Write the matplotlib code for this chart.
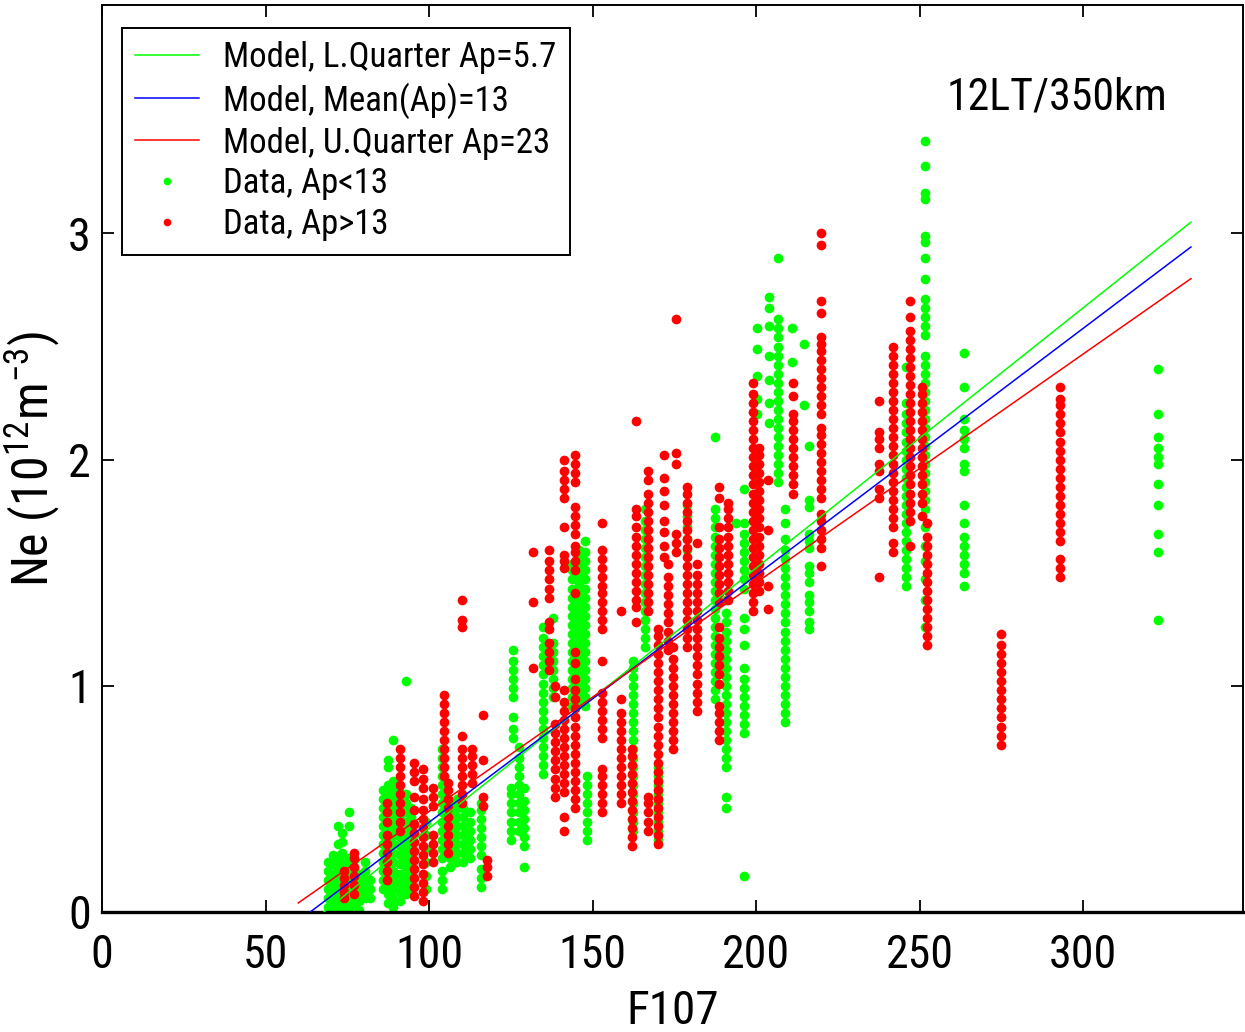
import numpy as np
import matplotlib
matplotlib.use("Agg")
import matplotlib.pyplot as plt
from matplotlib.lines import Line2D

plt.rcParams['font.family'] = ['Roboto Condensed', 'DejaVu Sans']
plt.rcParams['mathtext.fontset'] = 'custom'
plt.rcParams['mathtext.rm'] = 'Roboto Condensed'
plt.rcParams['mathtext.it'] = 'Roboto Condensed'

# model lines (F107 endpoints and Ne values)
model_f107 = [60, 333]
ne_lower_q = [-0.09, 3.05]   # Ap=5.7
ne_mean = [-0.04, 2.94]      # Ap=13
ne_upper_q = [0.04, 2.80]    # Ap=23

# data, Ap<13 : (F107, [Ne values]) columns
green_cols = [
    (69.0, [0.02, 0.06, 0.10, 0.14, 0.18, 0.22]),
    (70.5, [0.01, 0.05, 0.09, 0.13, 0.17, 0.21, 0.25]),
    (72.0, [0.00, 0.04, 0.08, 0.12, 0.16, 0.20, 0.24, 0.30, 0.38]),
    (73.5, [0.02, 0.06, 0.10, 0.14, 0.18, 0.22, 0.26, 0.31, 0.35]),
    (75.5, [0.00, 0.04, 0.08, 0.12, 0.16, 0.20, 0.24, 0.38, 0.44]),
    (77.0, [0.03, 0.07, 0.11, 0.15, 0.19, 0.23]),
    (78.5, [0.01, 0.05, 0.09, 0.13, 0.17]),
    (80.5, [0.06, 0.10, 0.14, 0.18, 0.22]),
    (82.0, [0.06, 0.10, 0.14]),
    (86.0, [0.10, 0.14, 0.18, 0.22, 0.26, 0.30, 0.34, 0.38, 0.42, 0.46, 0.50, 0.54]),
    (87.5, [0.04, 0.08, 0.12, 0.16, 0.20, 0.24, 0.28, 0.32, 0.36, 0.40, 0.44, 0.48, 0.52, 0.56, 0.64, 0.67]),
    (89.0, [0.02, 0.06, 0.10, 0.14, 0.18, 0.22, 0.26, 0.30, 0.34, 0.38, 0.42, 0.46, 0.50, 0.54, 0.58, 0.76]),
    (91.0, [0.05, 0.09, 0.13, 0.17, 0.21, 0.25, 0.29, 0.33, 0.37, 0.41, 0.45, 0.49, 0.53]),
    (93.0, [0.08, 0.12, 0.16, 0.20, 0.24, 0.28, 0.32, 0.36, 0.40, 0.44, 0.48, 0.52, 1.02]),
    (94.5, [0.10, 0.14, 0.18, 0.22, 0.26, 0.30, 0.34, 0.38, 0.42, 0.46]),
    (99.0, [0.10, 0.16, 0.22, 0.28, 0.34, 0.40]),
    (104.0, [0.10, 0.14, 0.18, 0.24, 0.28, 0.32, 0.36, 0.40, 0.44, 0.48, 0.52, 0.56, 0.60, 0.64, 0.68, 0.72]),
    (106.5, [0.20, 0.24, 0.28, 0.32, 0.36, 0.40, 0.44, 0.48]),
    (108.5, [0.22, 0.26, 0.30, 0.34, 0.38, 0.42, 0.46, 0.50]),
    (110.5, [0.22, 0.26, 0.30, 0.34, 0.38, 0.42, 0.46]),
    (112.5, [0.24, 0.28, 0.32, 0.36, 0.40, 0.44]),
    (116.0, [0.11, 0.15, 0.19, 0.25, 0.29, 0.33, 0.37, 0.41, 0.45, 0.48]),
    (125.0, [0.32, 0.36, 0.40, 0.44, 0.48, 0.52, 0.55]),
    (125.7, [0.77, 0.81, 0.86, 0.95, 0.99, 1.03, 1.07, 1.11, 1.16]),
    (127.5, [0.36, 0.40, 0.44, 0.48, 0.52, 0.56, 0.60, 0.64, 0.68, 0.73]),
    (129.0, [0.20, 0.29, 0.33, 0.37, 0.41, 0.45, 0.49, 0.55]),
    (134.9, [0.61, 0.65, 0.69, 0.73, 0.77, 0.81, 0.85, 0.89, 0.93, 0.97, 1.01, 1.05, 1.09, 1.13, 1.17, 1.21, 1.26]),
    (137.8, [0.95, 0.99, 1.03, 1.07, 1.11, 1.15, 1.19, 1.30]),
    (143.7, [0.91, 0.95, 0.99, 1.03, 1.07, 1.11, 1.15, 1.19, 1.23, 1.27, 1.31, 1.35, 1.39, 1.43, 1.47, 1.51, 1.54]),
    (145.8, [0.93, 0.97, 1.01, 1.05, 1.09, 1.13, 1.17, 1.21, 1.25, 1.29, 1.33, 1.37, 1.41, 1.45, 1.49, 1.53, 1.57, 1.60]),
    (147.8, [0.91, 0.95, 0.99, 1.03, 1.07, 1.11, 1.15, 1.19, 1.23, 1.27, 1.31, 1.35, 1.39, 1.43, 1.47, 1.51, 1.55, 1.59, 1.64]),
    (148.2, [0.32, 0.36, 0.40, 0.44, 0.48, 0.52, 0.56, 0.60]),
    (162.4, [0.36, 0.40, 0.44, 0.48, 0.52, 0.56, 0.60, 0.64, 0.68, 0.72, 0.76, 0.80, 0.84, 0.88, 0.92, 0.96, 1.00, 1.04, 1.08, 1.11]),
    (166.0, [1.17, 1.21, 1.25, 1.29, 1.33, 1.37, 1.41, 1.45, 1.49, 1.53, 1.57, 1.61, 1.65, 1.69, 1.73, 1.78]),
    (170.0, [0.32, 0.36, 0.40, 0.44, 0.48, 0.52, 0.56, 0.60, 0.64]),
    (179.0, [1.60, 1.65, 1.70, 1.75, 1.80]),
    (187.5, [0.94, 0.98, 1.02, 1.06, 1.10, 1.14, 1.18, 1.22, 1.26, 1.30, 1.34, 1.38, 1.42, 1.46, 1.50, 1.54, 1.58, 1.62, 1.66, 1.70, 1.74, 1.78, 2.10]),
    (190.8, [0.46, 0.51, 0.64, 0.68, 0.72, 0.76, 0.80, 0.84, 0.88, 0.92, 0.96, 1.00, 1.04, 1.08, 1.12, 1.16, 1.20, 1.24, 1.28, 1.32, 1.38]),
    (193.8, [1.72]),
    (196.4, [0.16, 0.79, 0.83, 0.87, 0.91, 0.95, 0.99, 1.03, 1.08, 1.18, 1.25, 1.30, 1.43, 1.47, 1.51, 1.55, 1.59, 1.63, 1.67, 1.72, 1.87]),
    (200.2, [2.20, 2.27, 2.37, 2.49, 2.58]),
    (204.0, [2.16, 2.25, 2.35, 2.46, 2.59, 2.67, 2.72]),
    (206.8, [1.90, 1.94, 1.98, 2.02, 2.06, 2.10, 2.14, 2.18, 2.22, 2.26, 2.30, 2.34, 2.38, 2.42, 2.46, 2.50, 2.54, 2.58, 2.62, 2.89]),
    (209.0, [0.84, 0.88, 0.92, 0.96, 1.00, 1.04, 1.08, 1.12, 1.16, 1.20, 1.24, 1.28, 1.32, 1.36, 1.40, 1.44, 1.48, 1.52, 1.56, 1.60, 1.65, 1.72, 1.78]),
    (211.0, [2.43, 2.58]),
    (214.7, [2.24, 2.51]),
    (216.2, [1.25, 1.28, 1.33, 1.37, 1.40, 1.46, 1.50, 1.53, 1.61, 1.64, 1.67, 1.79, 1.82, 2.06]),
    (246.0, [1.44, 1.48, 1.52, 1.56, 1.60, 1.64, 1.68, 1.72, 1.76, 1.80, 1.84, 1.88, 1.92, 1.96, 2.00, 2.04, 2.08, 2.12, 2.16, 2.20, 2.25, 2.41]),
    (251.6, [1.26, 1.38, 1.47, 1.55, 1.62, 1.70, 1.78, 1.82, 1.86, 1.90, 1.94, 1.98, 2.02, 2.06, 2.10, 2.14, 2.18, 2.22, 2.26, 2.30, 2.34, 2.38, 2.42, 2.46, 2.55, 2.59, 2.63, 2.67, 2.71, 2.80, 2.89, 2.96, 2.99, 3.15, 3.18, 3.30, 3.41]),
    (263.5, [1.44, 1.50, 1.54, 1.58, 1.62, 1.66, 1.72, 1.80, 1.95, 1.98, 2.05, 2.09, 2.13, 2.18, 2.32, 2.47]),
    (323.0, [1.29, 1.59, 1.67, 1.80, 1.89, 1.98, 2.01, 2.05, 2.10, 2.20, 2.40]),
]

# data, Ap>13
red_cols = [
    (74.0, [0.06, 0.09, 0.12, 0.15, 0.18]),
    (77.0, [0.08, 0.12, 0.16, 0.20, 0.24, 0.26]),
    (87.0, [0.14, 0.18, 0.22, 0.26, 0.30, 0.34, 0.40, 0.44, 0.48]),
    (91.0, [0.36, 0.40, 0.44, 0.48, 0.52, 0.56, 0.60, 0.64, 0.68, 0.72]),
    (95.5, [0.07, 0.11, 0.15, 0.19, 0.23, 0.27, 0.31, 0.35, 0.39, 0.45, 0.51, 0.58, 0.62, 0.66]),
    (98.0, [0.05, 0.09, 0.13, 0.17, 0.21, 0.25, 0.29, 0.33, 0.37, 0.41, 0.45, 0.50, 0.55, 0.59, 0.63]),
    (101.2, [0.22, 0.26, 0.30, 0.34, 0.47, 0.51, 0.55]),
    (104.6, [0.60, 0.64, 0.68, 0.72, 0.76, 0.80, 0.84, 0.88, 0.92, 0.96]),
    (105.8, [0.26, 0.30, 0.34, 0.38, 0.42, 0.46, 0.50, 0.54, 0.57]),
    (110.0, [0.48, 0.52, 0.56, 0.60, 0.64, 0.68, 0.72, 0.78, 1.26, 1.29, 1.38]),
    (113.0, [0.57, 0.61, 0.65, 0.69, 0.72]),
    (116.5, [0.47, 0.51, 0.67, 0.87]),
    (117.6, [0.16, 0.20, 0.23]),
    (131.8, [1.08, 1.37, 1.59]),
    (136.6, [1.07, 1.11, 1.15, 1.19, 1.25, 1.28, 1.39, 1.43, 1.47, 1.51, 1.55, 1.60]),
    (138.5, [0.51, 0.55, 0.59, 0.63, 0.67, 0.71, 0.75, 0.79, 0.83, 0.95, 1.00]),
    (141.2, [0.36, 0.42, 0.53, 0.57, 0.61, 0.65, 0.69, 0.73, 0.77, 0.81, 0.85, 0.89, 0.93, 0.98, 1.52, 1.55, 1.58, 1.70, 1.83, 1.87, 1.91, 1.95, 2.00]),
    (144.6, [0.46, 0.50, 0.54, 0.58, 0.62, 0.66, 0.70, 0.74, 0.78, 0.82, 0.86, 0.90, 0.94, 0.98, 1.03, 1.10, 1.15, 1.41, 1.51, 1.55, 1.59, 1.62, 1.67, 1.71, 1.75, 1.79, 1.90, 1.94, 1.98, 2.02]),
    (153.0, [0.44, 0.48, 0.52, 0.56, 0.60, 0.63, 0.77, 0.81, 0.85, 0.89, 0.93, 0.97, 1.11, 1.25, 1.29, 1.33, 1.37, 1.41, 1.44, 1.48, 1.52, 1.56, 1.60, 1.72]),
    (158.7, [0.48, 0.52, 0.56, 0.60, 0.64, 0.68, 0.72, 0.76, 0.80, 0.84, 0.88, 0.94, 1.33]),
    (162.0, [0.29, 0.33, 0.37, 0.41, 0.45, 0.49, 0.53, 0.57, 0.61, 0.65, 0.69, 0.72]),
    (163.3, [1.28, 1.35, 1.38, 1.42, 1.46, 1.50, 1.54, 1.58, 1.62, 1.66, 1.70, 1.75, 1.78, 2.17]),
    (167.0, [0.36, 0.40, 0.44, 0.48, 0.51, 1.33, 1.37, 1.41, 1.45, 1.49, 1.53, 1.57, 1.61, 1.65, 1.69, 1.73, 1.77, 1.81, 1.85, 1.91, 1.95]),
    (170.0, [0.30, 0.34, 0.38, 0.42, 0.46, 0.50, 0.54, 0.58, 0.62, 0.66, 0.70, 0.74, 0.78, 0.82, 0.86, 0.90, 0.94, 0.98, 1.02, 1.06, 1.10, 1.14, 1.18, 1.22, 1.25]),
    (171.8, [1.57, 1.62, 1.68, 1.73, 1.80, 1.86, 1.92, 2.02]),
    (173.0, [1.16, 1.20, 1.24, 1.28, 1.32, 1.36, 1.40, 1.44, 1.48, 1.54]),
    (174.6, [0.72, 0.76, 0.80, 0.84, 0.88, 0.92, 0.96, 1.00, 1.04, 1.08, 1.12, 1.17]),
    (175.4, [1.59, 1.63, 1.67, 1.98, 2.03, 2.62]),
    (179.0, [1.17, 1.21, 1.25, 1.29, 1.33, 1.37, 1.41, 1.45, 1.49, 1.53, 1.57, 1.61, 1.65, 1.69, 1.73, 1.77, 1.81, 1.85, 1.88]),
    (182.0, [0.89, 0.93, 0.97, 1.01, 1.05, 1.09, 1.13, 1.17, 1.21, 1.25, 1.29, 1.33, 1.37, 1.41, 1.45, 1.49, 1.54, 1.63]),
    (188.7, [0.76, 0.80, 0.84, 0.88, 0.91, 1.01, 1.05, 1.09, 1.13, 1.17, 1.21, 1.26, 1.37, 1.41, 1.45, 1.49, 1.53, 1.57, 1.61, 1.65, 1.70, 1.83, 1.88]),
    (191.3, [1.38, 1.42, 1.46, 1.50, 1.54, 1.58, 1.62, 1.66, 1.70, 1.74, 1.78, 1.81]),
    (199.0, [1.33, 1.37, 1.41, 1.45, 1.49, 1.53, 1.57, 1.61, 1.65, 1.69, 1.73, 1.77, 1.81, 1.85, 1.89, 1.93, 1.97, 2.01, 2.05, 2.09, 2.13, 2.17, 2.21, 2.25, 2.29, 2.34]),
    (200.8, [1.42, 1.46, 1.50, 1.54, 1.58, 1.62, 1.66, 1.70, 1.74, 1.78, 1.82, 1.86, 1.90, 1.94, 1.98, 2.02, 2.05]),
    (203.7, [1.34, 1.44, 1.69, 1.91]),
    (211.3, [1.85, 1.89, 1.93, 1.97, 2.01, 2.05, 2.09, 2.13, 2.17, 2.20, 2.28, 2.34]),
    (219.8, [1.53, 1.61, 1.65, 1.69, 1.73, 1.76, 1.83, 1.87, 1.91, 1.95, 1.99, 2.03, 2.07, 2.11, 2.14, 2.20, 2.24, 2.28, 2.32, 2.36, 2.40, 2.44, 2.48, 2.51, 2.54, 2.65, 2.70, 2.95, 3.00]),
    (237.6, [1.48, 1.83, 1.87, 1.95, 1.98, 2.05, 2.09, 2.12, 2.26]),
    (242.0, [1.59, 1.63, 1.70, 1.74, 1.78, 1.82, 1.86, 1.90, 1.94, 1.98, 2.02, 2.06, 2.10, 2.14, 2.18, 2.22, 2.26, 2.30, 2.34, 2.38, 2.42, 2.46, 2.50]),
    (247.0, [1.62, 1.73, 1.77, 1.81, 1.85, 1.89, 1.93, 1.97, 2.01, 2.05, 2.09, 2.13, 2.17, 2.21, 2.25, 2.29, 2.33, 2.37, 2.41, 2.45, 2.49, 2.53, 2.57, 2.63, 2.70]),
    (250.8, [1.75, 1.81, 1.85, 1.89, 1.93, 1.97, 2.01, 2.05, 2.09, 2.13, 2.17, 2.21, 2.25, 2.29, 2.32]),
    (252.4, [1.18, 1.22, 1.26, 1.30, 1.34, 1.38, 1.42, 1.46, 1.50, 1.54, 1.58, 1.62, 1.66, 1.72]),
    (275.0, [0.74, 0.78, 0.82, 0.86, 0.90, 0.94, 0.98, 1.02, 1.06, 1.10, 1.14, 1.18, 1.23]),
    (293.0, [1.48, 1.52, 1.56, 1.64, 1.68, 1.72, 1.76, 1.80, 1.84, 1.88, 1.92, 1.96, 2.00, 2.04, 2.08, 2.12, 2.16, 2.20, 2.24, 2.27, 2.32]),
]

x_ticks = [0, 50, 100, 150, 200, 250, 300]
y_ticks = [0, 1, 2, 3]

GREEN = '#00ff00'
RED = '#ff0000'


def flatten(cols):
    xs, ys = [], []
    for f, vals in cols:
        xs += [f] * len(vals)
        ys += vals
    return np.array(xs), np.array(ys)


gx, gy = flatten(green_cols)
rx, ry = flatten(red_cols)

fig = plt.figure(figsize=(12.45, 10.32), dpi=100)
ax = fig.add_axes([0.082, 0.1163, 0.9166, 0.8789])

ax.plot(gx, gy, 'o', color=GREEN, ms=7, mec='none', zorder=2)
ax.plot(rx, ry, 'o', color=RED, ms=7, mec='none', zorder=3)

ax.plot(model_f107, ne_lower_q, color='#00ff00', lw=1.1, zorder=4)
ax.plot(model_f107, ne_mean, color='#0000ff', lw=1.1, zorder=4)
ax.plot(model_f107, ne_upper_q, color='#ff0000', lw=1.1, zorder=4)

ax.set_xlim(0, 349)
ax.set_ylim(0, 4.01)
ax.set_xticks(x_ticks)
ax.set_yticks(y_ticks)
ax.tick_params(direction='in', length=8.5, width=1.3, top=True, right=True,
               labelsize=33)
ax.tick_params(axis='x', pad=15)
ax.tick_params(axis='y', pad=8)
for s in ax.spines.values():
    s.set_linewidth(1.4)
ax.spines['bottom'].set_linewidth(2.4)

ax.set_xlabel('F107', fontsize=34, labelpad=9)
ax.set_ylabel('Ne (10$^{12}$m$^{-3}$)', fontsize=36)
ax.yaxis.set_label_coords(-0.035, 0.5)

ax.text(292, 3.60, '12LT/350km', fontsize=31.5, ha='center', va='center')

handles = [
    Line2D([], [], color='#00ff00', lw=1.1),
    Line2D([], [], color='#0000ff', lw=1.1),
    Line2D([], [], color='#ff0000', lw=1.1),
    Line2D([], [], ls='none', marker='o', color=GREEN, ms=5.5, mec='none'),
    Line2D([], [], ls='none', marker='o', color=RED, ms=5.5, mec='none'),
]
labels = ['Model, L.Quarter Ap=5.7', 'Model, Mean(Ap)=13', 'Model, U.Quarter Ap=23',
          'Data, Ap<13', 'Data, Ap>13']
leg = ax.legend(handles, labels, loc='upper left', bbox_to_anchor=(0.0175, 0.9747),
                borderaxespad=0, fontsize=25, handlelength=1.85, handletextpad=0.68,
                labelspacing=0.23, borderpad=0.38, fancybox=False, framealpha=1,
                edgecolor='black')
leg.get_frame().set_linewidth(1.4)

fig.savefig('out.png', dpi=100)
